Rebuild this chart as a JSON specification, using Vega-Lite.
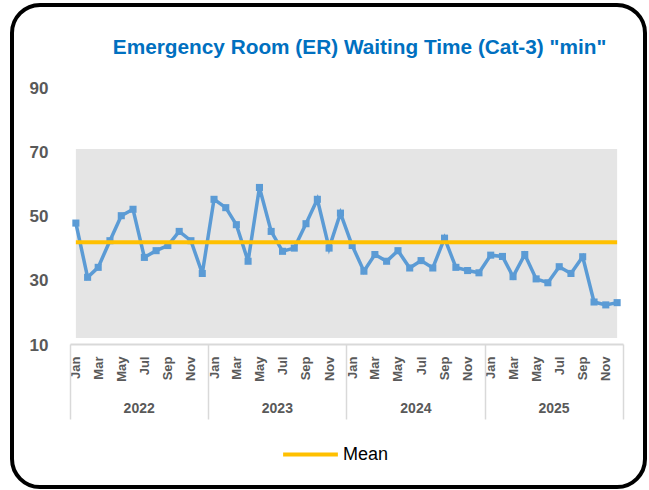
{
  "$schema": "https://vega.github.io/schema/vega-lite/v6.json",
  "width": 633,
  "height": 482,
  "autosize": {"type": "none"},
  "padding": {"left": 12, "top": 5, "right": 4, "bottom": 3},
  "background": "#ffffff",
  "config": {
    "view": {"stroke": "#000000", "strokeWidth": 4, "cornerRadius": 28},
    "font": "Liberation Sans"
  },
  "title": {
    "text": "Emergency Room (ER) Waiting Time (Cat-3) \"min\"",
    "color": "#0070C0",
    "fontSize": 20.8,
    "fontWeight": "bold",
    "font": "Liberation Sans",
    "anchor": "middle",
    "frame": "group",
    "offset": -54,
    "dx": 31
  },
  "data": {
    "values": [
      {"date": "2022-01-01", "value": 48.0, "mean": 42},
      {"date": "2022-02-01", "value": 31.1, "mean": 42},
      {"date": "2022-03-01", "value": 34.2, "mean": 42},
      {"date": "2022-04-01", "value": 42.5, "mean": 42},
      {"date": "2022-05-01", "value": 50.3, "mean": 42},
      {"date": "2022-06-01", "value": 52.3, "mean": 42},
      {"date": "2022-07-01", "value": 37.3, "mean": 42},
      {"date": "2022-08-01", "value": 39.4, "mean": 42},
      {"date": "2022-09-01", "value": 41.0, "mean": 42},
      {"date": "2022-10-01", "value": 45.4, "mean": 42},
      {"date": "2022-11-01", "value": 42.5, "mean": 42},
      {"date": "2022-12-01", "value": 32.3, "mean": 42},
      {"date": "2023-01-01", "value": 55.4, "mean": 42},
      {"date": "2023-02-01", "value": 52.8, "mean": 42},
      {"date": "2023-03-01", "value": 47.5, "mean": 42},
      {"date": "2023-04-01", "value": 36.1, "mean": 42},
      {"date": "2023-05-01", "value": 59.1, "mean": 42},
      {"date": "2023-06-01", "value": 45.4, "mean": 42},
      {"date": "2023-07-01", "value": 39.2, "mean": 42},
      {"date": "2023-08-01", "value": 40.2, "mean": 42},
      {"date": "2023-09-01", "value": 47.8, "mean": 42},
      {"date": "2023-10-01", "value": 55.4, "mean": 42},
      {"date": "2023-11-01", "value": 40.2, "mean": 42},
      {"date": "2023-12-01", "value": 51.1, "mean": 42},
      {"date": "2024-01-01", "value": 41.0, "mean": 42},
      {"date": "2024-02-01", "value": 33.0, "mean": 42},
      {"date": "2024-03-01", "value": 38.2, "mean": 42},
      {"date": "2024-04-01", "value": 36.1, "mean": 42},
      {"date": "2024-05-01", "value": 39.4, "mean": 42},
      {"date": "2024-06-01", "value": 34.0, "mean": 42},
      {"date": "2024-07-01", "value": 36.3, "mean": 42},
      {"date": "2024-08-01", "value": 34.0, "mean": 42},
      {"date": "2024-09-01", "value": 43.3, "mean": 42},
      {"date": "2024-10-01", "value": 34.2, "mean": 42},
      {"date": "2024-11-01", "value": 33.2, "mean": 42},
      {"date": "2024-12-01", "value": 32.5, "mean": 42},
      {"date": "2025-01-01", "value": 38.0, "mean": 42},
      {"date": "2025-02-01", "value": 37.6, "mean": 42},
      {"date": "2025-03-01", "value": 31.3, "mean": 42},
      {"date": "2025-04-01", "value": 38.2, "mean": 42},
      {"date": "2025-05-01", "value": 30.6, "mean": 42},
      {"date": "2025-06-01", "value": 29.4, "mean": 42},
      {"date": "2025-07-01", "value": 34.4, "mean": 42},
      {"date": "2025-08-01", "value": 32.3, "mean": 42},
      {"date": "2025-09-01", "value": 37.5, "mean": 42},
      {"date": "2025-10-01", "value": 23.4, "mean": 42},
      {"date": "2025-11-01", "value": 22.5, "mean": 42},
      {"date": "2025-12-01", "value": 23.2, "mean": 42}
    ]
  },
  "layer": [
    {
      "mark": {"type": "area", "color": "#E5E5E5"},
      "encoding": {
        "x": {
          "field": "date", "type": "temporal",
          "scale": {"type": "utc", "domain": [{"year": 2021, "month": 12, "date": 16, "hours": 12, "utc": true}, {"year": 2025, "month": 12, "date": 16, "hours": 12, "utc": true}], "range": [58, 611]},
          "axis": null
        },
        "y": {"datum": 71.1, "type": "quantitative", "scale": {"domain": [10, 90], "range": [340, 83.3], "nice": false, "zero": false}, "axis": null},
        "y2": {"datum": 12.2}
      }
    },
    {
      "mark": {"type": "line", "color": "#5B9BD5", "strokeWidth": 3.5, "point": {"shape": "square", "size": 50, "filled": true, "color": "#5B9BD5"}},
      "encoding": {
        "x": {
          "field": "date", "type": "temporal",
          "scale": {"type": "utc", "domain": [{"year": 2021, "month": 12, "date": 16, "hours": 12, "utc": true}, {"year": 2025, "month": 12, "date": 16, "hours": 12, "utc": true}], "range": [58, 611]},
          "axis": {
            "orient": "bottom", "offset": -143, "title": null, "grid": false,
            "domain": true, "domainColor": "#D9D9D9", "domainWidth": 2,
            "ticks": false,
            "values": [
              {"year": 2022, "month": 1, "date": 1, "utc": true}, {"year": 2022, "month": 3, "date": 1, "utc": true}, {"year": 2022, "month": 5, "date": 1, "utc": true}, {"year": 2022, "month": 7, "date": 1, "utc": true}, {"year": 2022, "month": 9, "date": 1, "utc": true}, {"year": 2022, "month": 11, "date": 1, "utc": true},
              {"year": 2023, "month": 1, "date": 1, "utc": true}, {"year": 2023, "month": 3, "date": 1, "utc": true}, {"year": 2023, "month": 5, "date": 1, "utc": true}, {"year": 2023, "month": 7, "date": 1, "utc": true}, {"year": 2023, "month": 9, "date": 1, "utc": true}, {"year": 2023, "month": 11, "date": 1, "utc": true},
              {"year": 2024, "month": 1, "date": 1, "utc": true}, {"year": 2024, "month": 3, "date": 1, "utc": true}, {"year": 2024, "month": 5, "date": 1, "utc": true}, {"year": 2024, "month": 7, "date": 1, "utc": true}, {"year": 2024, "month": 9, "date": 1, "utc": true}, {"year": 2024, "month": 11, "date": 1, "utc": true},
              {"year": 2025, "month": 1, "date": 1, "utc": true}, {"year": 2025, "month": 3, "date": 1, "utc": true}, {"year": 2025, "month": 5, "date": 1, "utc": true}, {"year": 2025, "month": 7, "date": 1, "utc": true}, {"year": 2025, "month": 9, "date": 1, "utc": true}, {"year": 2025, "month": 11, "date": 1, "utc": true}
            ],
            "labelExpr": "utcFormat(datum.value, '%b')",
            "labelAngle": -90, "labelAlign": "right", "labelBaseline": "middle", "labelPadding": 12,
            "labelFontSize": 13, "labelFontWeight": "bold", "labelColor": "#595959",
            "labelFlush": false, "labelOverlap": false, "labelBound": false
          }
        },
        "y": {
          "field": "value", "type": "quantitative",
          "scale": {"domain": [10, 90], "range": [340, 83.3], "nice": false, "zero": false},
          "axis": {
            "orient": "left", "offset": -36, "title": null, "values": [10, 30, 50, 70, 90],
            "domain": false, "ticks": false, "grid": false, "labelPadding": 0,
            "labelFontSize": 17, "labelFontWeight": "bold", "labelColor": "#595959",
            "labelFlush": false, "labelOverlap": false
          }
        }
      }
    },
    {
      "mark": {"type": "line", "strokeWidth": 4},
      "encoding": {
        "x": {
          "field": "date", "type": "temporal",
          "scale": {"type": "utc", "domain": [{"year": 2021, "month": 12, "date": 16, "hours": 12, "utc": true}, {"year": 2025, "month": 12, "date": 16, "hours": 12, "utc": true}], "range": [58, 611]},
          "axis": {
            "orient": "bottom", "offset": -143, "title": null, "grid": false, "domain": false,
            "values": [
              {"year": 2021, "month": 12, "date": 16, "hours": 12, "utc": true},
              {"year": 2022, "month": 6, "date": 16, "utc": true},
              {"year": 2022, "month": 12, "date": 16, "hours": 12, "utc": true},
              {"year": 2023, "month": 6, "date": 16, "utc": true},
              {"year": 2023, "month": 12, "date": 16, "hours": 12, "utc": true},
              {"year": 2024, "month": 6, "date": 16, "utc": true},
              {"year": 2024, "month": 12, "date": 16, "hours": 12, "utc": true},
              {"year": 2025, "month": 6, "date": 16, "utc": true},
              {"year": 2025, "month": 12, "date": 16, "hours": 12, "utc": true}
            ],
            "ticks": true, "tickSize": 75, "tickColor": "#D9D9D9", "tickWidth": 1.5,
            "tickOpacity": {"condition": {"test": "utcmonth(datum.value) == 11", "value": 1}, "value": 0},
            "labelExpr": "utcmonth(datum.value) == 5 ? utcFormat(datum.value, '%Y') : ''",
            "labelAngle": 0, "labelAlign": "center", "labelBaseline": "middle", "labelPadding": -11,
            "labelFontSize": 14, "labelFontWeight": "bold", "labelColor": "#595959",
            "labelFlush": false, "labelOverlap": false, "labelBound": false
          }
        },
        "y": {
          "field": "mean", "type": "quantitative",
          "scale": {"domain": [10, 90], "range": [340, 83.3], "nice": false, "zero": false},
          "axis": null
        },
        "color": {
          "datum": "Mean",
          "scale": {"range": ["#FFC000"]},
          "legend": {
            "orient": "none", "legendX": 269, "legendY": 420, "title": null, "padding": 0,
            "symbolType": "stroke", "symbolSize": 3000, "symbolStrokeWidth": 4,
            "labelFontSize": 18, "labelColor": "#000000", "labelFont": "Liberation Sans", "labelOffset": 3
          }
        }
      }
    }
  ],
  "resolve": {"axis": {"x": "independent", "y": "independent"}}
}
